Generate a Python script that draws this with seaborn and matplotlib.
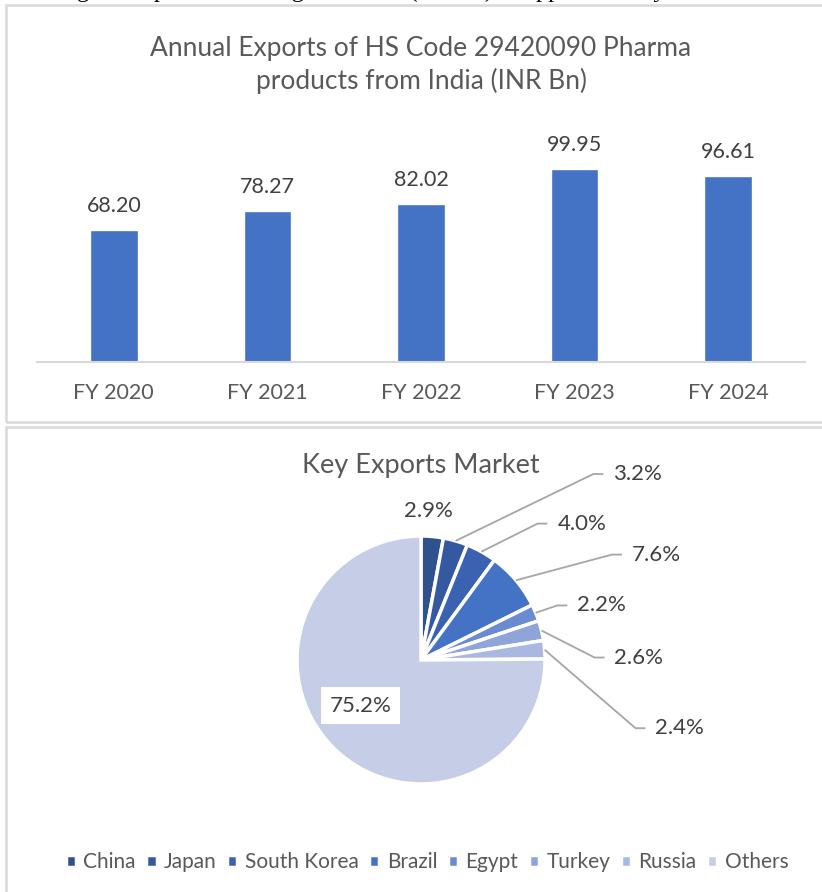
import numpy as np
import matplotlib
matplotlib.use('Agg')
import matplotlib.pyplot as plt
from matplotlib.patches import Rectangle
import seaborn as sns

# Data
years = ['FY 2020', 'FY 2021', 'FY 2022', 'FY 2023', 'FY 2024']
exports = [68.20, 78.27, 82.02, 99.95, 96.61]

markets = ['China', 'Japan', 'South Korea', 'Brazil', 'Egypt', 'Turkey', 'Russia', 'Others']
shares = [2.9, 3.2, 4.0, 7.6, 2.2, 2.6, 2.4, 75.2]
pie_colors = ['#2F528F', '#3559A0', '#3A62B0', '#4472C4', '#6A8BD0', '#8FA5D8', '#A9B8E0', '#C5CEE6']

sns.set_theme(style='white')
plt.rcParams['font.family'] = ['Lato', 'DejaVu Sans']

TXT = '#595959'
W, H = 822, 892
fig = plt.figure(figsize=(W / 100, H / 100), dpi=100)

# clipped line of body text at the very top
fig.text(-0.005, 1 + 3 / H, 'reflecting a compound annual growth rate (CAGR) of approximately 4.9% over the',
         family=['Liberation Serif'], fontsize=17.5, color='black', va='baseline', ha='left')

# panel borders
fig.patches.append(Rectangle((6 / W, 1 - 422 / H), 1.2, 417 / H, transform=fig.transFigure,
                             fill=False, edgecolor='#D9D9D9', linewidth=1.8))
fig.patches.append(Rectangle((6 / W, -0.1), 1.2, 1 - 427 / H + 0.1, transform=fig.transFigure,
                             fill=False, edgecolor='#D9D9D9', linewidth=1.8))

# ---- Bar chart ----
ax = fig.add_axes([37 / W, 1 - 362 / H, 768 / W, 242 / H])
sns.barplot(x=years, y=exports, color='#4472C4', saturation=1, width=0.31, ax=ax)
ax.set_ylim(0, 242 / 1.93)
ax.set_xlim(-0.5, 4.5)
ax.set_yticks([])
ax.set_xlabel('')
ax.set_ylabel('')
for s in ['top', 'right', 'left']:
    ax.spines[s].set_visible(False)
ax.spines['bottom'].set_color('#D9D9D9')
ax.spines['bottom'].set_linewidth(1.5)
ax.tick_params(axis='x', length=0, pad=15, labelsize=15.5, labelcolor=TXT)
ax.bar_label(ax.containers[0], fmt='%.2f', padding=10, fontsize=15.5, color='#404040')
fig.text(421 / W, 1 - 65 / H, 'Annual Exports of HS Code 29420090 Pharma\nproducts from India (INR Bn)',
         ha='center', va='center', fontsize=19, color=TXT, linespacing=1.3)

# ---- Pie chart ----
R = 124
cx, cy = 421, 660
ax2 = fig.add_axes([0, 0, 1, (H - 427) / H])
wedges, _ = ax2.pie(shares, colors=pie_colors, startangle=90, counterclock=False,
                    wedgeprops=dict(edgecolor='white', linewidth=2.5))
ax2.set_aspect('auto')
ax2.set_xlim(-cx / R, (W - cx) / R)
ax2.set_ylim((cy - H) / R, (cy - 427) / R)
ax2.axis('off')

# label layout (pie data units): elbow point of leader, None = no leader
elbows = [None, (1.39, 1.50), (0.94, 1.10), (1.54, 0.85), (1.10, 0.44), (1.40, 0.02), (1.73, -0.55), None]
text_pos = [(0.06, 1.20), (1.55, 1.50), (1.10, 1.10), (1.70, 0.85), (1.26, 0.44), (1.56, 0.02),
            (1.89, -0.55), (-0.49, -0.37)]

for w, val, el, tp in zip(wedges, shares, elbows, text_pos):
    mid = np.deg2rad((w.theta1 + w.theta2) / 2)
    label = f'{val:.1f}%'
    if el is not None:
        sx, sy = 1.0 * np.cos(mid), 1.0 * np.sin(mid)
        ax2.plot([sx, el[0], el[0] + 0.08], [sy, el[1], el[1]], color='#A6A6A6', lw=1.3,
                 solid_capstyle='butt')
        ax2.text(tp[0], tp[1], label, ha='left', va='center', fontsize=16, color='#404040')
    elif val > 50:
        ax2.text(tp[0], tp[1], label, ha='center', va='center', fontsize=16, color='#404040',
                 bbox=dict(facecolor='white', edgecolor='none', pad=6))
    else:
        ax2.text(tp[0], tp[1], label, ha='center', va='center', fontsize=16, color='#404040')

fig.text(421 / W, 1 - 465 / H, 'Key Exports Market', ha='center', va='center', fontsize=19.5, color=TXT)

fig.legend(wedges, markets, loc='center', bbox_to_anchor=(427 / W, 1 - 862 / H), ncol=8,
           frameon=False, fontsize=15, labelcolor=TXT, handlelength=0.5, handleheight=0.5,
           handletextpad=0.35, columnspacing=0.5, borderaxespad=0)

plt.savefig('out.png', dpi=100)
